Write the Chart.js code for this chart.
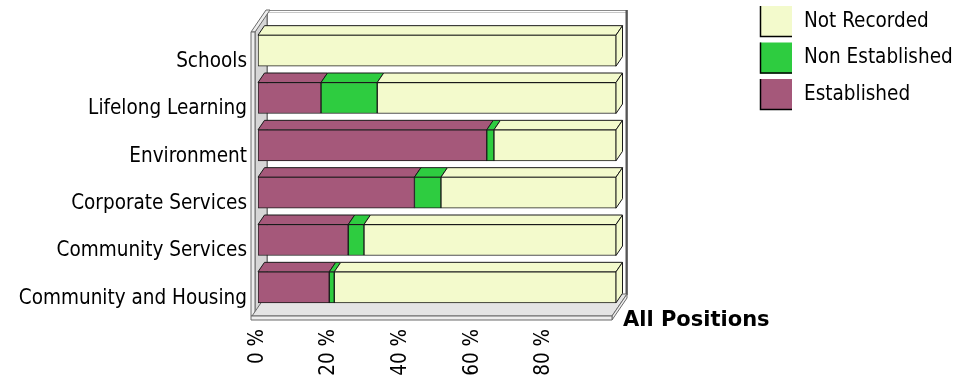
<!DOCTYPE html>
<html>
<head>
<meta charset="utf-8">
<title>All Positions</title>
<script src="https://cdn.jsdelivr.net/npm/chart.js@4.4.1/dist/chart.umd.min.js"></script>
<style>
  html, body { margin: 0; padding: 0; background: #ffffff; }
  #wrap { width: 965px; height: 382px; position: relative; }
</style>
</head>
<body>
<div id="wrap"><canvas id="chart" width="965" height="382"></canvas></div>
<script>
// Departments (top to bottom)
const categories = ['Schools', 'Lifelong Learning', 'Environment', 'Corporate Services', 'Community Services', 'Community and Housing'];

// Share of positions, in percent
const established    = [0, 17.6, 63.9, 43.7, 25.2, 19.9];
const nonEstablished = [0, 15.7, 2.0, 7.4, 4.4, 1.4];
const notRecorded    = [100, 66.7, 34.1, 48.9, 70.4, 78.7];

const seriesNames  = ['Established', 'Non Established', 'Not Recorded'];
const seriesColors = ['#A5587A', '#2ECC40', '#F3FACC'];

const xTickLabels = ['0 %', '20 %', '40 %', '60 %', '80 %', ''];
const axisTitle = 'All Positions';

const FONT = '"DejaVu Sans Condensed", "DejaVu Sans", sans-serif';
const EDGE = '#1a1a1a';

function poly(ctx, pts, fill, stroke) {
  ctx.beginPath();
  ctx.moveTo(pts[0][0], pts[0][1]);
  for (let i = 1; i < pts.length; i++) ctx.lineTo(pts[i][0], pts[i][1]);
  ctx.closePath();
  if (fill) { ctx.fillStyle = fill; ctx.fill(); }
  if (stroke) { ctx.strokeStyle = stroke; ctx.stroke(); }
}

// Box walls, floor and the depth faces of the bars
const depthPlugin = {
  id: 'depth3d',
  beforeDatasetsDraw(chart) {
    const { ctx } = chart;
    const { left: L, right: R, top: T, bottom: B } = chart.chartArea;
    const fx0 = L - 6, fx1 = R - 4, fy0 = T + 5, fy1 = B + 5;
    const dx = 15, dy = 22, slab = 4;
    ctx.save();
    ctx.lineWidth = 1;

    // back wall
    ctx.fillStyle = '#ffffff';
    ctx.fillRect(fx0 + dx, fy0 - dy, fx1 - fx0, fy1 - fy0);
    ctx.strokeStyle = '#8a8a8a';
    ctx.strokeRect(Math.round(fx0 + dx) + 0.5, Math.round(fy0 - dy) + 0.5, fx1 - fx0, fy1 - fy0);
    ctx.beginPath();
    ctx.moveTo(fx0 + dx, fy0 - dy + 2.5);
    ctx.lineTo(fx1 + dx, fy0 - dy + 2.5);
    ctx.strokeStyle = '#c8c8c8';
    ctx.stroke();

    // left wall
    poly(ctx, [[fx0 + slab - 1, fy0], [fx0 + dx, fy0 - dy], [fx0 + dx, fy1 - dy], [fx0 + slab - 1, fy1]], '#d6d6d6', '#6a6a6a');
    poly(ctx, [[fx0 - 1, fy0], [fx0 - 1 + dx, fy0 - dy], [fx0 + slab - 1 + dx, fy0 - dy], [fx0 + slab - 1, fy0]], '#eeeeee', '#6a6a6a');
    poly(ctx, [[fx0 - 1, fy0], [fx0 + slab - 1, fy0], [fx0 + slab - 1, fy1], [fx0 - 1, fy1]], '#eeeeee', '#6a6a6a');

    // floor
    poly(ctx, [[fx0, fy1], [fx0 + dx, fy1 - dy], [fx1 + dx, fy1 - dy], [fx1, fy1]], '#e4e4e4', '#6a6a6a');
    poly(ctx, [[fx1, fy1], [fx1 + dx, fy1 - dy], [fx1 + dx, fy1 - dy + slab], [fx1, fy1 + slab]], '#eeeeee', '#6a6a6a');
    poly(ctx, [[fx0 - 1, fy1], [fx1, fy1], [fx1, fy1 + slab], [fx0 - 1, fy1 + slab]], '#eeeeee', '#6a6a6a');

    // right edge of the back wall
    ctx.beginPath();
    ctx.moveTo(fx1 + dx - 0.5, fy0 - dy);
    ctx.lineTo(fx1 + dx - 0.5, fy1 - dy);
    ctx.lineWidth = 2;
    ctx.strokeStyle = '#555555';
    ctx.stroke();
    ctx.lineWidth = 1;

    // bar tops and end caps
    const bdx = 6.5, bdy = 9.5;
    const last = chart.data.datasets.length - 1;
    chart.data.datasets.forEach((ds, i) => {
      const meta = chart.getDatasetMeta(i);
      meta.data.forEach((bar) => {
        const p = bar.getProps(['x', 'y', 'base', 'height'], true);
        const x0 = Math.min(p.base, p.x), x1 = Math.max(p.base, p.x);
        if (x1 - x0 < 0.5) return;
        const top = p.y - p.height / 2, bot = p.y + p.height / 2;
        poly(ctx, [[x0, top], [x0 + bdx, top - bdy], [x1 + bdx, top - bdy], [x1, top]], ds.backgroundColor, EDGE);
        if (i === last) {
          poly(ctx, [[x1, top], [x1 + bdx, top - bdy], [x1 + bdx, bot - bdy], [x1, bot]], ds.backgroundColor, EDGE);
        }
      });
    });
    ctx.restore();
  },
  afterDraw(chart) {
    const { ctx } = chart;
    ctx.save();
    // legend, last series first
    const lx = 760, ly = 6, box = 31, step = 36.5;
    const order = chart.data.datasets.map((d, i) => i).reverse();
    order.forEach((di, k) => {
      const ds = chart.data.datasets[di];
      const y = ly + k * step;
      ctx.fillStyle = ds.backgroundColor;
      ctx.fillRect(lx, y, 32, box);
      ctx.beginPath();
      ctx.moveTo(lx + 0.5, y);
      ctx.lineTo(lx + 0.5, y + box - 0.5);
      ctx.lineTo(lx + 32, y + box - 0.5);
      ctx.strokeStyle = '#000000';
      ctx.lineWidth = 1.5;
      ctx.stroke();
      ctx.font = '20.5px ' + FONT;
      ctx.fillStyle = '#000000';
      ctx.textBaseline = 'middle';
      ctx.textAlign = 'left';
      ctx.fillText(ds.label, 804, y + box / 2);
    });
    // axis title
    ctx.font = 'bold 21px "DejaVu Sans", sans-serif';
    ctx.textBaseline = 'alphabetic';
    ctx.fillStyle = '#000000';
    ctx.fillText(axisTitle, 623, 326);
    ctx.restore();
  }
};

const seriesData = [established, nonEstablished, notRecorded];

new Chart(document.getElementById('chart'), {
  type: 'bar',
  data: {
    labels: categories,
    datasets: seriesNames.map((name, i) => ({
      label: name,
      data: seriesData[i],
      backgroundColor: seriesColors[i],
      borderColor: EDGE,
      borderWidth: 1,
      borderSkipped: false,
      barThickness: 31
    }))
  },
  options: {
    indexAxis: 'y',
    responsive: false,
    animation: false,
    events: [],
    layout: { padding: { top: 27, right: 349, left: 0, bottom: 0 } },
    plugins: {
      legend: { display: false },
      tooltip: { enabled: false },
      title: { display: false }
    },
    scales: {
      x: {
        stacked: true,
        min: 0,
        max: 100,
        grid: { display: false },
        border: { display: false },
        afterFit(scale) { scale.height = 71; },
        ticks: {
          stepSize: 20,
          autoSkip: false,
          minRotation: 90,
          maxRotation: 90,
          padding: 10,
          labelOffset: -0.5,
          color: '#000000',
          font: { family: FONT, size: 20.5 },
          callback: (v) => xTickLabels[Math.round(v / 20)]
        }
      },
      y: {
        stacked: true,
        grid: { display: false },
        border: { display: false },
        afterFit(scale) { scale.width = 258; },
        ticks: {
          padding: 3,
          labelOffset: 11,
          autoSkip: false,
          color: '#000000',
          font: { family: FONT, size: 20.5 }
        }
      }
    }
  },
  plugins: [depthPlugin]
});
</script>
</body>
</html>
